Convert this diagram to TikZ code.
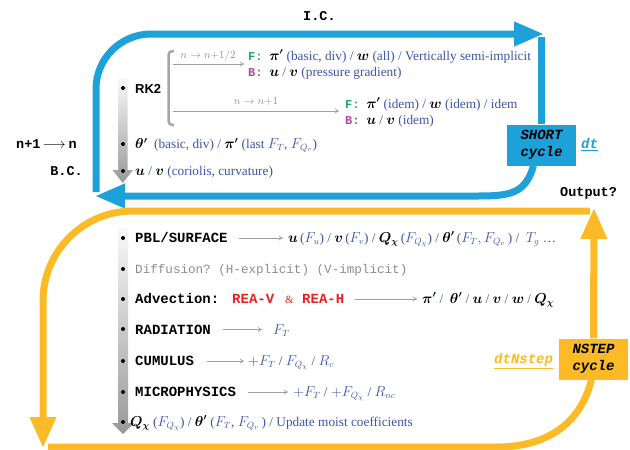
\documentclass[tikz,border=0pt]{standalone}
\usepackage{fontspec}
\usepackage{amsmath}
\usepackage{bm}
\setmainfont{Liberation Serif}
\setmonofont{Liberation Mono}
\newfontfamily\rkfont{Liberation Sans}
\usetikzlibrary{arrows.meta}
\definecolor{cyanc}{HTML}{1DA1D9}
\definecolor{orangec}{HTML}{FBBA26}
\definecolor{txtblue}{HTML}{3C55A5}
\definecolor{fgreen}{HTML}{22A462}
\definecolor{bmag}{HTML}{B0479B}
\definecolor{reac}{HTML}{E52222}
\definecolor{graytxt}{HTML}{8C8C8C}
\newcommand{\mybv}[1]{\textcolor{black}{$\bm{#1}$}}
\newcommand{\myF}{\textcolor{fgreen}{\fontsize{12}{14}\selectfont\ttfamily\bfseries F:}}
\newcommand{\myB}{\textcolor{bmag}{\fontsize{12}{14}\selectfont\ttfamily\bfseries B:}}
\begin{document}
\begin{tikzpicture}[x=1pt,y=-1pt,
  desc/.style={anchor=base west, inner sep=0pt, text=txtblue, font=\fontsize{13.3}{15}\selectfont},
  lbl/.style={anchor=base west, inner sep=0pt, font=\fontsize{14}{16}\selectfont\ttfamily\bfseries},
  side/.style={inner sep=0pt, font=\fontsize{13.5}{16}\selectfont\ttfamily\bfseries},
  garrow/.style={draw=gray!75, line width=0.7pt, -{To[length=4pt,width=5pt]}},
  glabel/.style={inner sep=0pt, anchor=base, text=graytxt, font=\fontsize{10.5}{12}\selectfont},
  bluearrow/.style={draw=cyanc, line width=7pt, -{Triangle[length=30pt,width=23pt]}},
  blueline/.style={draw=cyanc, line width=7pt},
  orangearrow/.style={draw=orangec, line width=7pt, -{Triangle[length=31pt,width=25pt]}},
  orangeline/.style={draw=orangec, line width=7pt},
  cyclebox/.style={minimum width=69pt, minimum height=41pt, inner sep=0pt, align=center,
     font=\fontsize{14}{17}\selectfont\ttfamily\bfseries\itshape},
  bul/.style={circle, fill=black, inner sep=0pt, minimum size=4pt}
]
\useasboundingbox (0,0) rectangle (630,450);

% ---------------- blue loop ----------------
\node[cyclebox, fill=cyanc] (short) at (541.5,145) {SHORT\\cycle};
\coordinate (bL) at (96,192);
\coordinate (bTL) at (96,34);
\coordinate (bTR) at (544,34);
\coordinate (bRT) at (541.5,37);
\coordinate (bBL) at (478,196);
\coordinate (bBtip) at (95,196);
\draw[bluearrow, rounded corners=55pt] (bL) -- (bTL) -- (bTR);
\draw[blueline] (short.north) -- (bRT);
\draw[bluearrow] ([xshift=-8pt]short.south) .. controls +(-8,28) and +(32,0) .. (bBL) -- (bBtip);
\node[anchor=base west, inner sep=0pt, text=cyanc, font=\fontsize{14}{16}\selectfont\ttfamily\bfseries\itshape] (dt) at (581,148) {\underline{dt}};

% ---------------- orange loop ----------------
\node[cyclebox, fill=orangec] (nstep) at (593.5,359) {NSTEP\\cycle};
\coordinate (oUp) at (594,208);
\coordinate (oTR) at (590,211);
\coordinate (oTL) at (43,211);
\coordinate (oTip) at (43,448);
\coordinate (oBR) at (497,447);
\coordinate (oBL) at (48,447);
\draw[orangearrow] (nstep.north) -- (oUp);
\draw[orangearrow, rounded corners=90pt] (oTR) -- (oTL) -- (oTip);
\draw[orangeline] ([xshift=-2pt]nstep.south) .. controls +(-12,48) and +(45,0) .. (oBR) -- (oBL);
\node[anchor=base west, inner sep=0pt, text=orangec, font=\fontsize{14}{16}\selectfont\ttfamily\bfseries\itshape] (dtn) at (494,363) {\underline{dtNstep}};

% ---------------- gray time bars ----------------
\shade[top color=gray!5, bottom color=gray!80]
  (118,78) -- (127.5,78) -- (127.5,170) -- (133,170) -- (122.75,183) -- (112.5,170) -- (118,170) -- cycle;
\shade[top color=gray!5, bottom color=gray!80]
  (118,228) -- (128,228) -- (128,423) -- (134,423) -- (123,434) -- (112,423) -- (118,423) -- cycle;

% ---------------- side labels ----------------
\node[side, anchor=base west] (ic) at (303,20) {I.C.};
\node[side, anchor=base west] (nn) at (16,148) {n+1\hspace{2pt}$\longrightarrow$\hspace{3pt}n};
\node[side, anchor=base east] (bc) at (83,175) {B.C.};
\node[side, anchor=base west] (out) at (560,196) {Output?};

% ---------------- RK2 section ----------------
\node[bul] (b1) at (123,88) {};
\node[anchor=base west, inner sep=0pt, font=\fontsize{13}{15}\selectfont\rkfont\bfseries] (rk2) at (135,93) {RK2};
\draw[draw=gray!70, line width=2.5pt, rounded corners=4pt] (174,51) -- (168.5,51) -- (168.5,125) -- (174,125);
\coordinate (a1s) at (173,64);
\coordinate (a1e) at (244,64);
\coordinate (a2s) at (173,111);
\coordinate (a2e) at (339,111);
\draw[garrow] (a1s) -- (a1e);
\draw[garrow] (a2s) -- (a2e);
\node[glabel] (l1) at (208,58) {$n\rightarrow n{+}1/2$};
\node[glabel] (l2) at (256,104) {$n\rightarrow n{+}1$};
\node[desc] (f1) at (248,60) {\myF\ \ \mybv{\pi'} (basic, div) / \mybv{w} (all) / Vertically semi-implicit};
\node[desc] (bb1) at (248,76) {\myB\ \ \mybv{u} / \mybv{v} (pressure gradient)};
\node[desc] (f2) at (345,108) {\myF\ \ \mybv{\pi'} (idem) / \mybv{w} (idem) / idem};
\node[desc] (bb2) at (345,124) {\myB\ \ \mybv{u} / \mybv{v} (idem)};
\node[bul] (b2) at (123,144) {};
\node[desc] (th) at (135,148.5) {\mybv{\theta'}\ \ (basic, div) / \mybv{\pi'} (last $F_T$, $F_{Q_v}$)};
\node[bul] (b3) at (123,171) {};
\node[desc] (uv) at (135,175) {\mybv{u} / \mybv{v} (coriolis, curvature)};

% ---------------- physics section ----------------
\node[bul] (p1) at (123,238) {};
\node[lbl] (pbl) at (135,242) {PBL/SURFACE};
\node[desc] (pblo) at (288,242) {\mybv{u}\,($F_u$) / \mybv{v}\,($F_v$) / \mybv{Q_\chi}\,($F_{Q_\chi}$) / \mybv{\theta'}\,($F_T, F_{Q_v}$\,) /\ \ $T_g$ \dots};
\draw[garrow] (239,238) -- (283,238);

\node[bul] (p2) at (123,269) {};
\node[anchor=base west, inner sep=0pt, text=graytxt, font=\fontsize{12.6}{15}\selectfont\ttfamily] (dif) at (135,273) {Diffusion? (H-explicit) (V-implicit)};

\node[bul] (p3) at (123,299) {};
\node[lbl] (adv) at (135,303) {Advection:};
\node[lbl, text=reac] (reav) at (232,303) {REA-V};
\node[anchor=base west, inner sep=0pt, text=reac, font=\fontsize{11}{13}\selectfont] (amp) at (285,303) {\&};
\node[lbl, text=reac] (reah) at (302,303) {REA-H};
\node[desc] (advo) at (422,303) {\mybv{\pi'}\ /\ \ \mybv{\theta'}\ /\ \mybv{u} / \mybv{v} / \mybv{w} / \mybv{Q_\chi}};
\draw[garrow] (355,299) -- (417,299);

\node[bul] (p4) at (123,329) {};
\node[lbl] (rad) at (135,334) {RADIATION};
\node[desc] (rado) at (273,334) {$F_T$};
\draw[garrow] (223,329.5) -- (262,329.5);

\node[bul] (p5) at (123,361) {};
\node[lbl] (cum) at (135,365) {CUMULUS};
\node[desc] (cumo) at (248,365) {$+F_T$ / $F_{Q_\chi}$ / $R_c$};
\draw[garrow] (207,361) -- (244,361);

\node[bul] (p6) at (123,392) {};
\node[lbl] (mic) at (135,396) {MICROPHYSICS};
\node[desc] (mico) at (293,396) {$+F_T$ / $+F_{Q_\chi}$ / $R_{nc}$};
\draw[garrow] (248,392) -- (288,392);

\node[bul] (p7) at (123,422) {};
\node[desc] (qrow) at (130,426) {\mybv{Q_\chi}\ ($F_{Q_\chi}$) / \mybv{\theta'}\ ($F_T$, $F_{Q_v}$\,) / Update moist coefficients};
\end{tikzpicture}
\end{document}
